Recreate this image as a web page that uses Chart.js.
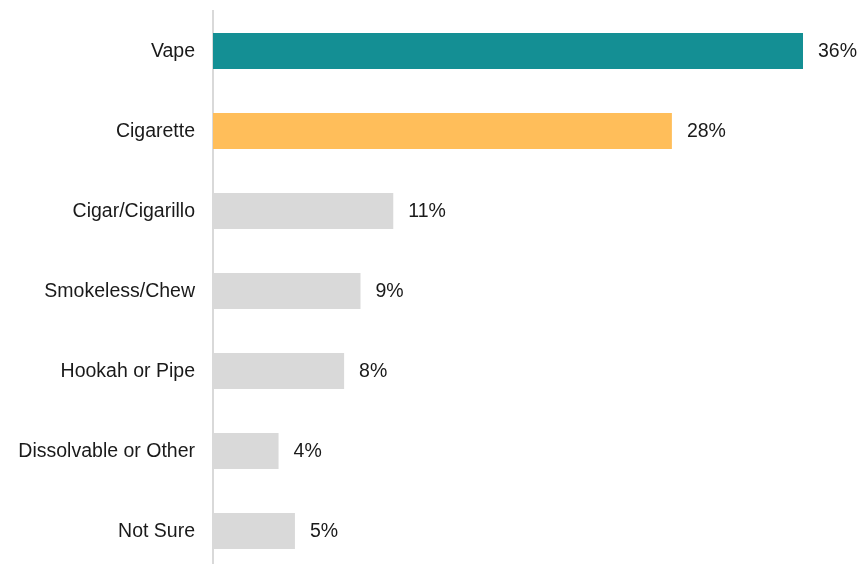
<!DOCTYPE html>
<html>
<head>
<meta charset="utf-8">
<script src="https://cdn.jsdelivr.net/npm/chart.js@4/dist/chart.umd.min.js"></script>
<style>
html,body{margin:0;padding:0;background:#fff;overflow:hidden;width:862px;height:564px;}
#wrap{position:absolute;left:0;top:0;width:862px;height:572px;}
</style>
</head>
<body>
<div id="wrap"><canvas id="c" width="862" height="572"></canvas></div>
<script>
const categories = ["Vape","Cigarette","Cigar/Cigarillo","Smokeless/Chew","Hookah or Pipe","Dissolvable or Other","Not Sure"];
const values = [36, 28, 11, 9, 8, 4, 5];
const barColors = ["#148F94","#FFBE5A","#D9D9D9","#D9D9D9","#D9D9D9","#D9D9D9","#D9D9D9"];

const FONT = "'Liberation Sans', Arial, sans-serif";
const FONT_SIZE = 19.5;

const valueLabels = {
  id: 'valueLabels',
  afterDatasetsDraw(chart) {
    const ctx = chart.ctx;
    const meta = chart.getDatasetMeta(0);
    ctx.save();
    ctx.font = FONT_SIZE + "px " + FONT;
    ctx.fillStyle = "#1a1a1a";
    ctx.textAlign = "left";
    ctx.textBaseline = "middle";
    meta.data.forEach((bar, i) => {
      ctx.fillText(values[i] + "%", bar.x + 15, bar.y + 1);
    });
    ctx.restore();
  }
};

new Chart(document.getElementById('c'), {
  type: 'bar',
  data: {
    labels: categories,
    datasets: [{
      data: values,
      backgroundColor: barColors,
      borderWidth: 0,
      categoryPercentage: 1.0,
      barPercentage: 0.45
    }]
  },
  options: {
    indexAxis: 'y',
    responsive: false,
    animation: false,
    devicePixelRatio: 1,
    layout: { padding: { top: 11, right: 0, bottom: 1, left: 0 } },
    plugins: { legend: { display: false }, tooltip: { enabled: false } },
    scales: {
      x: {
        display: false,
        min: 0,
        max: 39.6,
        grid: { display: false }
      },
      y: {
        afterFit(scale) { scale.width = 213; scale.paddingTop = 0; scale.paddingBottom = 0; },
        grid: { display: false, drawTicks: false },
        border: { display: true, color: "#D9D9D9", width: 2 },
        ticks: {
          padding: 18,
          labelOffset: 1,
          color: "#1a1a1a",
          font: { family: FONT, size: FONT_SIZE }
        }
      }
    }
  },
  plugins: [valueLabels]
});
</script>
</body>
</html>
